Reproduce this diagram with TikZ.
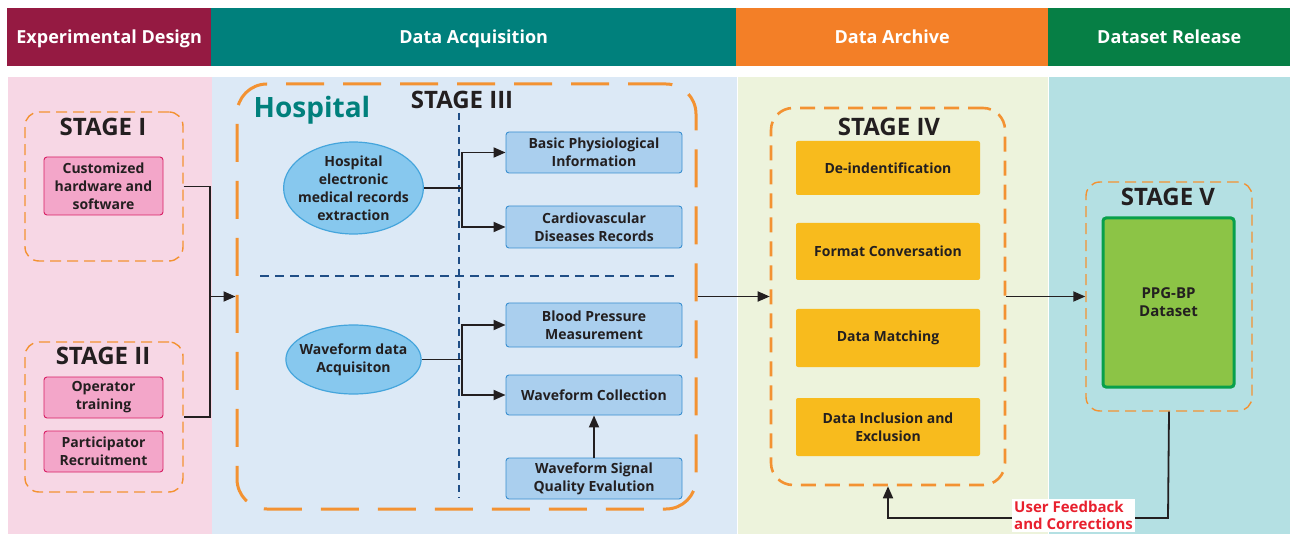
\documentclass[tikz,border=0pt]{standalone}
\usepackage{fontspec}
\setmainfont{Open Sans}
\usetikzlibrary{arrows.meta,shapes.geometric}
\definecolor{cMaroon}{HTML}{951A42}
\definecolor{cTeal}{HTML}{00807C}
\definecolor{cOrange}{HTML}{F37F27}
\definecolor{cGreen}{HTML}{067F45}
\definecolor{pPink}{HTML}{F7D7E5}
\definecolor{pBlue}{HTML}{DCE9F6}
\definecolor{pGreen}{HTML}{EDF3DC}
\definecolor{pCyan}{HTML}{B4E0E3}
\definecolor{dOrange}{HTML}{F39232}
\definecolor{dBlue}{HTML}{1F4E86}
\definecolor{boxPink}{HTML}{F3A6C9}
\definecolor{boxPinkB}{HTML}{D81E64}
\definecolor{boxBlue}{HTML}{AACFEE}
\definecolor{boxBlueB}{HTML}{3A8FD0}
\definecolor{ellBlue}{HTML}{87C8EE}
\definecolor{ellBlueB}{HTML}{45A5DC}
\definecolor{boxYel}{HTML}{F8BB1D}
\definecolor{boxGreen}{HTML}{8CC446}
\definecolor{boxGreenB}{HTML}{08A04B}
\definecolor{txt}{HTML}{231F20}
\definecolor{fbRed}{HTML}{E8202E}
\tikzset{
  header/.style={fill=#1, text=white, font=\bfseries\fontsize{18}{20}\selectfont, inner sep=0pt, anchor=north west, text height=13pt, text depth=0pt},
  panel/.style={fill=#1, draw=none, inner sep=0pt, anchor=north west},
  stagebox/.style={draw=dOrange, line width=1.4pt, dash pattern=on 11pt off 6pt, rounded corners=14pt, inner sep=0pt},
  stagelbl/.style={font=\bfseries\fontsize{24}{26}\selectfont, text=txt, inner sep=0pt},
  btext/.style={font=\bfseries\fontsize{14}{18}\selectfont, text=txt},
  pinkbox/.style={btext, draw=boxPinkB, fill=boxPink, line width=0.9pt, rounded corners=3pt, inner sep=0pt, align=center},
  bluebox/.style={btext, draw=boxBlueB, fill=boxBlue, line width=0.9pt, rounded corners=3pt, inner sep=0pt, minimum width=176pt, align=center},
  ellbox/.style={btext, ellipse, draw=ellBlueB, fill=ellBlue, line width=1.2pt, inner sep=-6pt, align=center},
  yelbox/.style={btext, fill=boxYel, draw=none, rounded corners=2pt, inner sep=0pt, minimum width=184pt, align=center},
  conn/.style={draw=txt, line width=1.8pt},
  arr/.style={conn, -{Triangle[length=12pt,width=10pt]}},
}
\begin{document}
\begin{tikzpicture}[x=1pt,y=-1pt]
\useasboundingbox[fill=white] (0,0) rectangle (1292,534);
% headers
\node[header=cMaroon, minimum width=204pt, minimum height=58pt] (hED) at (7,8) {Experimental Design};
\node[header=cTeal, minimum width=525pt, minimum height=58pt] (hDA) at (211,8) {Data Acquisition};
\node[header=cOrange, minimum width=312pt, minimum height=58pt] (hAR) at (736,8) {Data Archive};
\node[header=cGreen, minimum width=242pt, minimum height=58pt] (hDR) at (1048,8) {Dataset Release};
% panels
\node[panel=pPink, minimum width=204pt, minimum height=457pt] (pED) at (8,77) {};
\node[panel=pBlue, minimum width=525pt, minimum height=457pt] (pDA) at (212,77) {};
\node[panel=pGreen, minimum width=310pt, minimum height=457pt] (pAR) at (738,77) {};
\node[panel=pCyan, minimum width=241pt, minimum height=457pt] (pDR) at (1049,77) {};
% Stage I / II
\node[stagebox, minimum width=158pt, minimum height=149pt] (s1) at (104,186.5) {};
\node[stagelbl] (s1l) at (103,127) {STAGE I};
\node[pinkbox, minimum width=119pt, minimum height=58pt] (cust) at (103.5,186) {Customized\\hardware and\\software};
\node[stagebox, minimum width=158pt, minimum height=150pt] (s2) at (104,417) {};
\node[stagelbl] (s2l) at (103,356) {STAGE II};
\node[pinkbox, minimum width=119pt, minimum height=41pt] (oper) at (103.5,397.5) {Operator\\training};
\node[pinkbox, minimum width=119pt, minimum height=41pt] (part) at (103.5,451.5) {Participator\\Recruitment};
% Hospital (Stage III)
\node[draw=dOrange, line width=3pt, dash pattern=on 38pt off 19pt, rounded corners=30pt, minimum width=459pt, minimum height=425pt, inner sep=0pt] (hosp) at (466.5,296.5) {};
\node[font=\bfseries\fontsize{28}{30}\selectfont, text=cTeal, inner sep=0pt] (hosplbl) at (312,110) {Hospital};
\node[stagelbl] (s3l) at (462,100) {STAGE III};
\coordinate (vtop) at (459,113);
\coordinate (vbot) at (459,498);
\draw[draw=dBlue, line width=1.8pt, dash pattern=on 7pt off 5pt] (vtop) -- (vbot);
\coordinate (hl) at (260,276);
\coordinate (hr) at (677,276);
\draw[draw=dBlue, line width=1.8pt, dash pattern=on 9pt off 6pt] (hl) -- (hr);
\node[ellbox, minimum width=139pt, minimum height=92pt] (e1) at (353.5,188) {Hospital\\electronic\\medical records\\extraction};
\node[ellbox, minimum width=133pt, minimum height=69pt] (e2) at (353.5,359.5) {Waveform data\\Acquisiton};
\node[bluebox, minimum height=41pt] (bpi) at (594,152.5) {Basic Physiological\\Information};
\node[bluebox, minimum height=42pt] (cdr) at (594,227) {Cardiovascular\\Diseases Records};
\node[bluebox, minimum height=44pt] (bpm) at (594,325) {Blood Pressure\\Measurement};
\node[bluebox, minimum height=40pt] (wc) at (594,395) {Waveform Collection};
\node[bluebox, minimum height=41pt] (wq) at (594,478.5) {Waveform Signal\\Quality Evalution};
% connectors stage I/II -> hospital
\coordinate (j1) at (210,296.5);
\draw[conn] (s1.east) -| (j1) |- (s2.east);
\draw[arr] (j1) -- (hosp.west);
% hospital internals
\coordinate (ja) at (462,188);
\draw[conn] (e1.east) -- (ja);
\draw[arr] (ja) |- (bpi.west);
\draw[arr] (ja) |- (cdr.west);
\coordinate (jb) at (462,359.5);
\draw[conn] (e2.east) -- (jb);
\draw[arr] (jb) |- (bpm.west);
\draw[arr] (jb) |- (wc.west);
\draw[arr] (wq.north) -- (wc.south);
% Stage IV
\node[draw=dOrange, line width=2.6pt, dash pattern=on 15pt off 9pt, rounded corners=22pt, minimum width=234pt, minimum height=377pt, inner sep=0pt] (s4) at (888,296.5) {};
\node[stagelbl] (s4l) at (889,127) {STAGE IV};
\node[yelbox, minimum height=54pt] (deid) at (888,168) {De-indentification};
\node[yelbox, minimum height=57pt] (fmt) at (888,251.5) {Format Conversation};
\node[yelbox, minimum height=58pt] (dm) at (888,338) {Data Matching};
\node[yelbox, minimum height=58pt] (die) at (888,427) {Data Inclusion and\\Exclusion};
\draw[arr] (hosp.east) -- (s4.west);
% Stage V
\node[stagebox, minimum width=166pt, minimum height=229pt] (s5) at (1169,296.5) {};
\node[stagelbl] (s5l) at (1168,197) {STAGE V};
\node[fill=boxGreen, draw=boxGreenB, line width=3pt, rounded corners=3pt, minimum width=131pt, minimum height=169pt, inner sep=0pt, align=center, font=\bfseries\fontsize{15}{18}\selectfont, text=txt] (ppg) at (1168.5,302.5) {PPG-BP\\Dataset};
\draw[arr] (s4.east) -- (s5.west);
% feedback
\coordinate (fb) at (1168,518);
\draw[arr] (s5.south) -- (fb) -| (s4.south);
\node[fill=white, inner sep=2pt, align=left, text=fbRed, font=\bfseries\fontsize{15}{17}\selectfont, anchor=north west] (fbl) at (1012,499) {User Feedback\\and Corrections};
\end{tikzpicture}
\end{document}
